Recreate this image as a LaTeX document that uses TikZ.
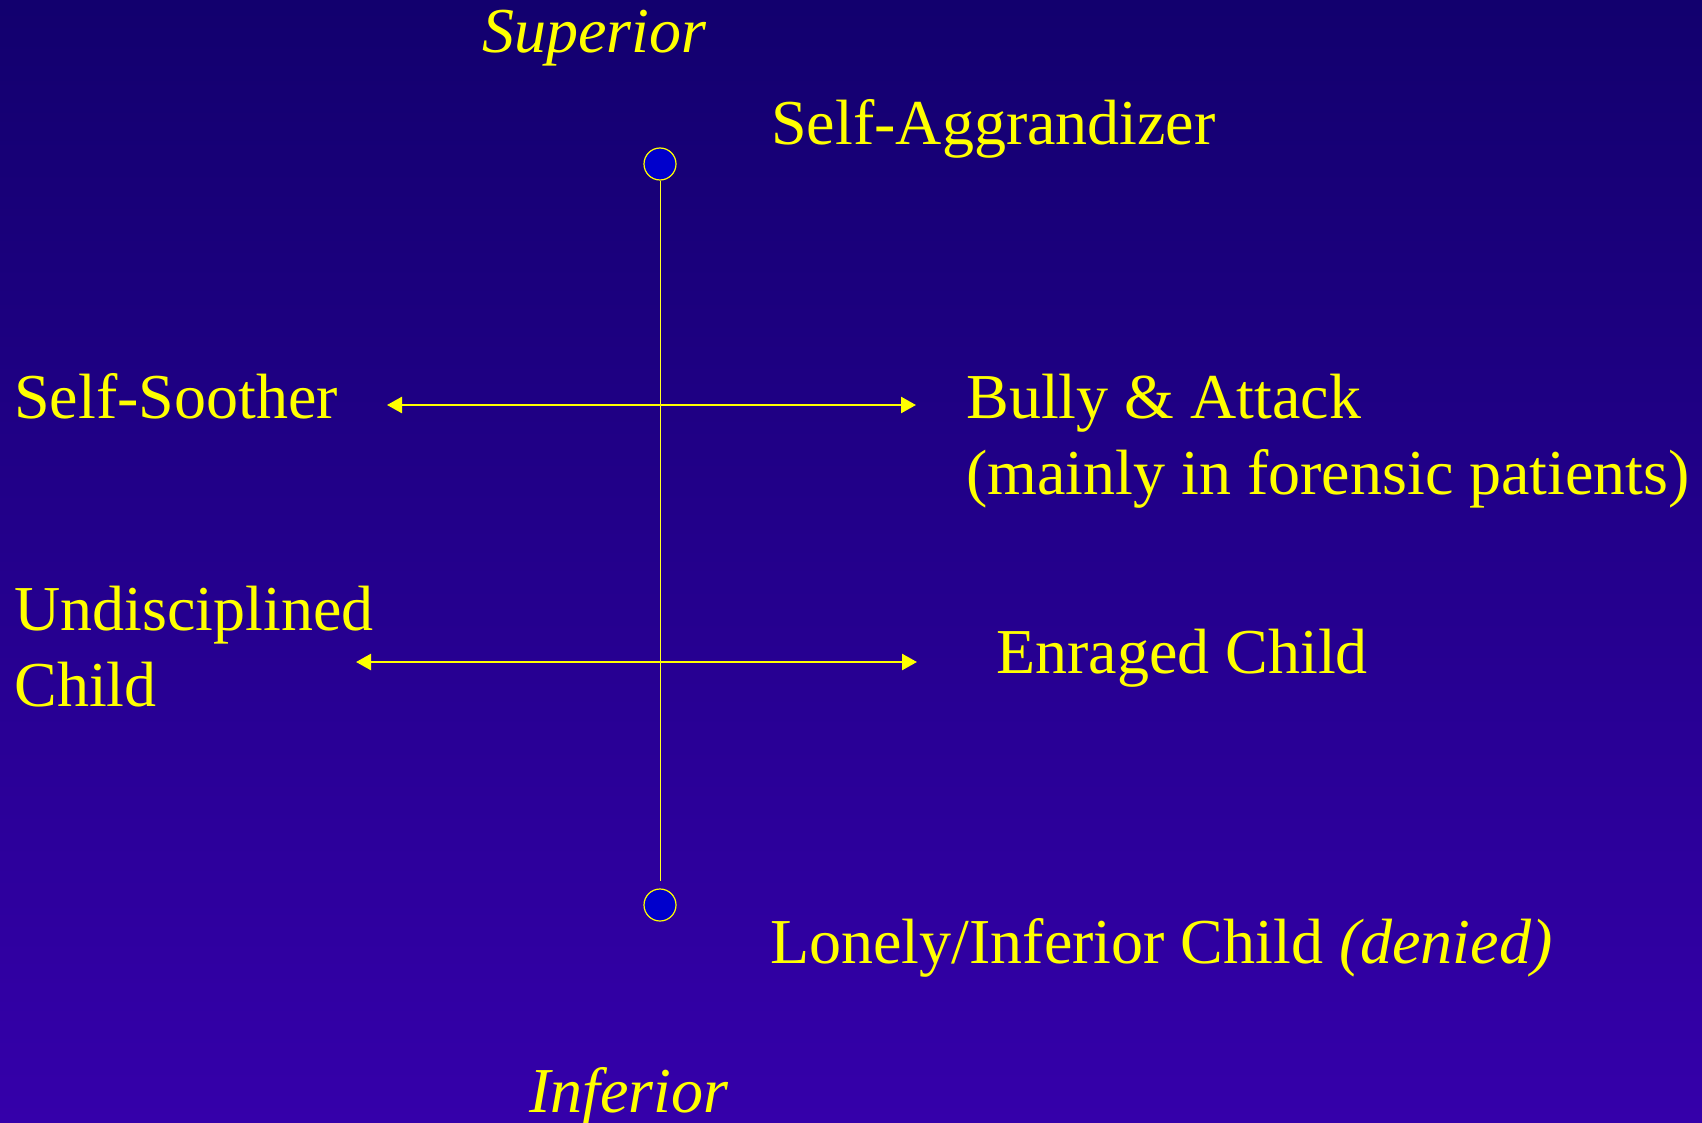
\documentclass[tikz,border=0pt]{standalone}
\usepackage{fontspec}
\setmainfont{Liberation Serif}
\usetikzlibrary{arrows.meta}
\definecolor{bgtop}{RGB}{18,0,110}
\definecolor{bgbot}{RGB}{53,0,170}
\definecolor{dotblue}{RGB}{0,0,204}
\definecolor{txt}{RGB}{255,255,0}
\tikzset{
  lbl/.style={anchor=base west, inner sep=0pt, text=txt, font=\fontsize{32}{38}\selectfont},
  ilbl/.style={lbl, font=\fontsize{32}{38}\selectfont\itshape},
  pole/.style={circle, draw=txt, line width=0.6pt, fill=dotblue, minimum size=16pt, inner sep=0pt},
  axis/.style={draw=txt!85!white, line width=0.5pt},
  dbl/.style={draw=txt, line width=1.25pt, -{Triangle[length=7.5pt,width=8pt]}}
}
\begin{document}
\begin{tikzpicture}[x=0.5pt, y=-0.5pt]
  % background
  \shade[top color=bgtop, bottom color=bgbot] (0,0) rectangle (1702,1123);
  \useasboundingbox (0,0) rectangle (1702,1123);

  % vertical axis with its two poles
  \node[pole] (top) at (660,164) {};
  \node[pole] (bot) at (660,905) {};
  \draw[axis] (top.south) -- ([yshift=3.5pt]bot.north);

  \node[ilbl] (sup) at (482,53) {Superior};
  \node[ilbl] (inf) at (529,1112) {Inferior};
  \node[lbl] (aggr) at (771,145) {Self-Aggrandizer};
  \node[lbl] (lonely) at (770,963) {Lonely/Inferior Child \textit{(denied)}};

  % first horizontal pair
  \coordinate (m1) at (628,405);
  \coordinate (l1) at (387,405);
  \coordinate (r1) at (916,405);
  \draw[dbl] (m1) -- (l1);
  \draw[dbl] (m1) -- (r1);
  \node[lbl] (sooth) at (14,418) {Self-Soother};
  \node[lbl] (bully) at (966,418) {Bully \& Attack};
  \node[lbl] (foren) at (966,494) {(mainly in forensic patients)};

  % second horizontal pair
  \coordinate (m2) at (630,662);
  \coordinate (l2) at (356,662);
  \coordinate (r2) at (917,662);
  \draw[dbl] (m2) -- (l2);
  \draw[dbl] (m2) -- (r2);
  \node[lbl] (undis) at (14,630) {Undisciplined};
  \node[lbl] (child) at (14,706) {Child};
  \node[lbl] (enraged) at (996,673) {Enraged Child};
\end{tikzpicture}
\end{document}
